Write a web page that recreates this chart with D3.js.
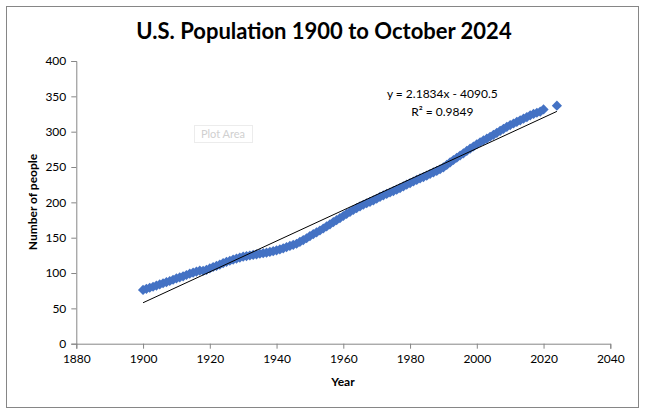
<!DOCTYPE html>
<html>
<head>
<meta charset="utf-8">
<script src="https://cdn.jsdelivr.net/npm/d3@7"></script>
<style>
  body { margin: 0; background: #fff; }
  text { font-family: Lato, "Open Sans", sans-serif; }
</style>
</head>
<body>
<div id="chart"></div>
<script>
// U.S. population, millions (annual 1900-2020, plus October 2024)
var years = [
  1900,1901,1902,1903,1904,1905,1906,1907,1908,1909,
  1910,1911,1912,1913,1914,1915,1916,1917,1918,1919,
  1920,1921,1922,1923,1924,1925,1926,1927,1928,1929,
  1930,1931,1932,1933,1934,1935,1936,1937,1938,1939,
  1940,1941,1942,1943,1944,1945,1946,1947,1948,1949,
  1950,1951,1952,1953,1954,1955,1956,1957,1958,1959,
  1960,1961,1962,1963,1964,1965,1966,1967,1968,1969,
  1970,1971,1972,1973,1974,1975,1976,1977,1978,1979,
  1980,1981,1982,1983,1984,1985,1986,1987,1988,1989,
  1990,1991,1992,1993,1994,1995,1996,1997,1998,1999,
  2000,2001,2002,2003,2004,2005,2006,2007,2008,2009,
  2010,2011,2012,2013,2014,2015,2016,2017,2018,2019,
  2020,2024
];
var population = [
  76.1,77.6,79.2,80.6,82.2,83.8,85.5,87.0,88.7,90.5,
  92.4,93.9,95.3,97.2,99.1,100.5,102.0,103.3,103.2,104.5,
  106.5,108.5,110.0,112.0,114.1,115.8,117.4,119.0,120.5,121.8,
  123.1,124.0,124.8,125.6,126.4,127.3,128.1,128.8,129.8,130.9,
  132.1,133.4,134.9,136.7,138.4,139.9,141.4,144.1,146.6,149.2,
  152.3,154.9,157.6,160.2,163.0,165.9,168.9,172.0,174.9,177.8,
  180.7,183.7,186.5,189.2,191.9,194.3,196.6,198.7,200.7,202.7,
  205.1,207.7,209.9,211.9,213.9,216.0,218.0,220.2,222.6,225.1,
  227.2,229.5,231.7,233.8,235.8,237.9,240.1,242.3,244.5,246.8,
  249.6,253.0,256.5,259.9,263.1,266.3,269.4,272.7,275.9,279.0,
  282.2,285.0,287.6,290.1,292.8,295.5,298.4,301.2,304.1,306.8,
  309.3,311.6,313.9,316.1,318.4,320.7,323.1,325.1,326.8,328.3,
  331.5,336.8
];
var xTicks = [1880,1900,1920,1940,1960,1980,2000,2020,2040];
var yTicks = [0,50,100,150,200,250,300,350,400];
var trendSlope = 2.1834, trendIntercept = -4090.5;
var trendRange = [1900, 2024];
var equationLines = ['y = 2.1834x - 4090.5', 'R\u00b2 = 0.9849'];

var W = 645, H = 414;
var margin = { top: 61, right: 34.7, bottom: 70.3, left: 76.3 },
    width = W - margin.left - margin.right,
    height = H - margin.top - margin.bottom;

var svg = d3.select('#chart').append('svg')
    .attr('width', W)
    .attr('height', H);

svg.append('rect')
    .attr('x', 6.5).attr('y', 6.5)
    .attr('width', W - 13).attr('height', H - 13)
    .attr('fill', '#fff')
    .attr('stroke', '#868686');

svg.append('text')
    .attr('x', 324).attr('y', 39)
    .attr('text-anchor', 'middle')
    .style('font-size', '22px')
    .style('font-weight', 'bold')
    .text('U.S. Population 1900 to October 2024');

var g = svg.append('g')
    .attr('transform', 'translate(' + margin.left + ',' + margin.top + ')');

var x = d3.scaleLinear().domain([1880, 2040]).range([0, width]);
var y = d3.scaleLinear().domain([0, 400]).range([height, 0]);

var xAxis = g.append('g')
    .attr('transform', 'translate(0,' + height + ')')
    .call(d3.axisBottom(x).tickValues(xTicks).tickFormat(d3.format('d')).tickSize(5).tickPadding(6));
var yAxis = g.append('g')
    .call(d3.axisLeft(y).tickValues(yTicks).tickSize(5).tickPadding(5));

[xAxis, yAxis].forEach(function (a) {
  a.selectAll('path, line').attr('stroke', '#868686');
  a.selectAll('text').attr('fill', '#000').style('font-size', '12px');
});

// markers
var diamond = d3.symbol().type(d3.symbolSquare).size(52);
g.selectAll('.pt')
    .data(years.map(function (yr, i) { return { year: yr, pop: population[i] }; }))
    .enter()
    .append('path')
      .attr('class', 'pt')
      .attr('d', diamond)
      .attr('transform', function (d) {
        return 'translate(' + x(d.year) + ',' + y(d.pop) + ') rotate(45)';
      })
      .attr('fill', '#4472C4');

// linear trendline
g.append('line')
    .attr('x1', x(trendRange[0])).attr('y1', y(trendSlope * trendRange[0] + trendIntercept))
    .attr('x2', x(trendRange[1])).attr('y2', y(trendSlope * trendRange[1] + trendIntercept))
    .attr('stroke', '#000')
    .attr('stroke-width', 1);

g.selectAll('.eq')
    .data(equationLines)
    .enter()
    .append('text')
      .attr('x', 366)
      .attr('y', function (d, i) { return 37 + i * 18; })
      .attr('text-anchor', 'middle')
      .style('font-size', '12px')
      .text(function (d) { return d; });

// axis titles
svg.append('text')
    .attr('x', 343).attr('y', 386)
    .attr('text-anchor', 'middle')
    .style('font-size', '12px')
    .style('font-weight', 'bold')
    .text('Year');
svg.append('text')
    .attr('transform', 'translate(37,202) rotate(-90)')
    .attr('text-anchor', 'middle')
    .style('font-size', '12px')
    .style('font-weight', 'bold')
    .text('Number of people');

// faint "Plot Area" hover tip
svg.append('rect')
    .attr('x', 194.5).attr('y', 125.5)
    .attr('width', 58).attr('height', 17)
    .attr('fill', '#fff')
    .attr('stroke', '#ececec');
svg.append('text')
    .attr('x', 223).attr('y', 138)
    .attr('text-anchor', 'middle')
    .style('font-size', '11px')
    .attr('fill', '#d0d0d0')
    .text('Plot Area');
</script>
</body>
</html>
